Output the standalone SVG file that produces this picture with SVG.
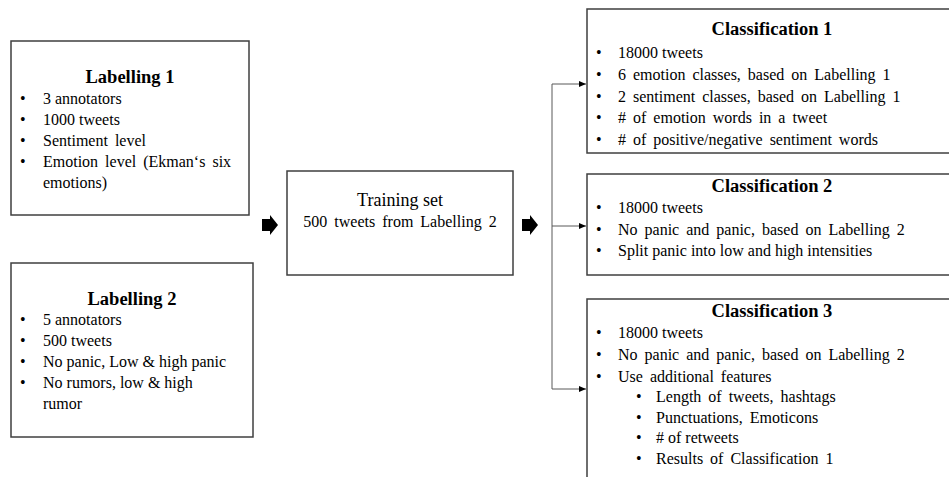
<svg xmlns="http://www.w3.org/2000/svg" width="949" height="477" viewBox="0 0 949 477">
<style>
  .box { fill: #ffffff; stroke: #3f3f3f; stroke-width: 1.5; }
  .title { font-family: "Liberation Serif", "Times New Roman", serif; font-size: 18.5px; font-weight: bold; fill: #000; text-anchor: middle; }
  .t { font-family: "Liberation Serif", "Times New Roman", serif; font-size: 16px; fill: #000; }
  .ws { word-spacing: 3px; }
  .c { text-anchor: middle; }
  .conn { fill: none; stroke: #595959; stroke-width: 1; }
  .blk { fill: #000; }
</style>
<defs>
  <marker id="ah" markerWidth="8" markerHeight="8" refX="7" refY="4" orient="auto" markerUnits="userSpaceOnUse">
    <path d="M0,1 L7,4 L0,7 Z" fill="#000"/>
  </marker>
</defs>
<rect width="949" height="477" fill="#ffffff"/>

<g id="connectors">
  <path class="conn" d="M552,84 L552,389"/>
  <path class="conn" d="M552,84 L586,84" marker-end="url(#ah)"/>
  <path class="conn" d="M552,226 L586,226" marker-end="url(#ah)"/>
  <path class="conn" d="M552,389 L586,389" marker-end="url(#ah)"/>
  <path class="blk" d="M262,219 L270,219 L270,215 L278,225 L270,235 L270,231 L262,231 Z"/>
  <path class="blk" d="M522,219 L530,219 L530,215 L538,225 L530,235 L530,231 L522,231 Z"/>
</g>

<g id="labelling1">
  <rect class="box" x="11" y="41" width="238" height="174"/>
  <text class="title" x="130" y="83">Labelling 1</text>
  <text class="t" x="20" y="104">•</text><text class="t" x="43" y="104">3 annotators</text>
  <text class="t" x="20" y="125">•</text><text class="t" x="43" y="125">1000 tweets</text>
  <text class="t" x="20" y="146">•</text><text class="t ws" x="43" y="146">Sentiment level</text>
  <text class="t" x="20" y="167">•</text><text class="t ws" x="43" y="167">Emotion level (Ekman‘s six</text>
  <text class="t" x="43" y="188">emotions)</text>
</g>

<g id="labelling2">
  <rect class="box" x="11" y="263" width="242" height="174"/>
  <text class="title" x="132" y="305">Labelling 2</text>
  <text class="t" x="20" y="325">•</text><text class="t" x="43" y="325">5 annotators</text>
  <text class="t" x="20" y="346">•</text><text class="t" x="43" y="346">500 tweets</text>
  <text class="t" x="20" y="367">•</text><text class="t" x="43" y="367">No panic, Low &amp; high panic</text>
  <text class="t" x="20" y="388">•</text><text class="t" x="43" y="388">No rumors, low &amp; high</text>
  <text class="t" x="43" y="409">rumor</text>
</g>

<g id="training">
  <rect class="box" x="287" y="171" width="226" height="104"/>
  <text class="t c" x="400" y="206" style="font-size:18px">Training set</text>
  <text class="t c ws" x="400" y="227">500 tweets from Labelling 2</text>
</g>

<g id="classification1">
  <rect class="box" x="587" y="9" width="372" height="144"/>
  <text class="title" x="772" y="35">Classification 1</text>
  <text class="t" x="596" y="58">•</text><text class="t" x="618" y="58">18000 tweets</text>
  <text class="t" x="596" y="80">•</text><text class="t ws" x="618" y="80">6 emotion classes, based on Labelling 1</text>
  <text class="t" x="596" y="102">•</text><text class="t ws" x="618" y="102">2 sentiment classes, based on Labelling 1</text>
  <text class="t" x="596" y="123">•</text><text class="t ws" x="618" y="123"># of emotion words in a tweet</text>
  <text class="t" x="596" y="145">•</text><text class="t ws" x="618" y="145"># of positive/negative sentiment words</text>
</g>

<g id="classification2">
  <rect class="box" x="587" y="174" width="372" height="101"/>
  <text class="title" x="772" y="192">Classification 2</text>
  <text class="t" x="596" y="213">•</text><text class="t" x="618" y="213">18000 tweets</text>
  <text class="t" x="596" y="235">•</text><text class="t ws" x="618" y="235">No panic and panic, based on Labelling 2</text>
  <text class="t" x="596" y="256">•</text><text class="t" x="618" y="256">Split panic into low and high intensities</text>
</g>

<g id="classification3">
  <rect class="box" x="587" y="299" width="372" height="200"/>
  <text class="title" x="772" y="317">Classification 3</text>
  <text class="t" x="596" y="338">•</text><text class="t" x="618" y="338">18000 tweets</text>
  <text class="t" x="596" y="360">•</text><text class="t ws" x="618" y="360">No panic and panic, based on Labelling 2</text>
  <text class="t" x="596" y="382">•</text><text class="t ws" x="618" y="382">Use additional features</text>
  <text class="t" x="636" y="402">•</text><text class="t ws" x="656" y="402">Length of tweets, hashtags</text>
  <text class="t" x="636" y="423">•</text><text class="t ws" x="656" y="423">Punctuations, Emoticons</text>
  <text class="t" x="636" y="443">•</text><text class="t" x="656" y="443"># of retweets</text>
  <text class="t" x="636" y="464">•</text><text class="t ws" x="656" y="464">Results of Classification 1</text>
</g>
</svg>
